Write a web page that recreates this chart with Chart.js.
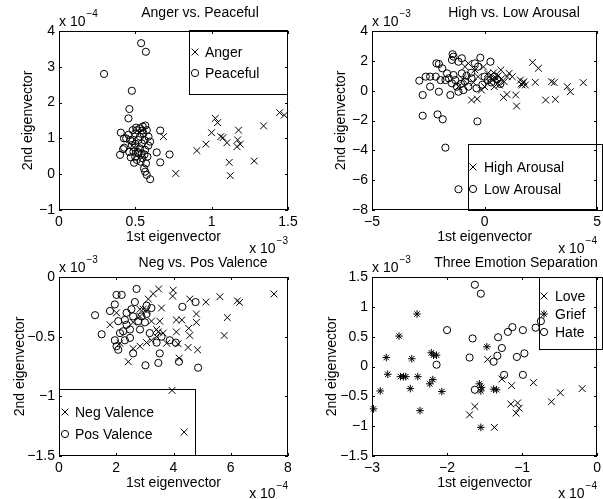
<!DOCTYPE html>
<html>
<head>
<meta charset="UTF-8">
<script src="https://cdn.jsdelivr.net/npm/chart.js"></script>
<style>
	body { margin: 0; background: #fff; }
	#wrap { position: relative; width: 603px; height: 499px; }
	#wrap canvas { position: absolute; left: 0; top: 0; }
</style>
</head>
<body>
<div id="wrap">
	<canvas id="c1" width="603" height="499"></canvas>
	<canvas id="c2" width="603" height="499"></canvas>
	<canvas id="c3" width="603" height="499"></canvas>
	<canvas id="c4" width="603" height="499"></canvas>
</div>
<script>
// ---- data (x in units of the bottom-right exponent, y in units of the top-left one) ----

// Anger vs. Peaceful (x 1e-3, y 1e-4)
var angerX = [0.765, 0.684, 0.903, 0.962, 0.999, 1.024, 1.039, 1.06, 1.074, 1.10, 1.115, 1.122, 1.176, 1.17, 1.166, 1.187, 1.279, 1.34, 1.445, 1.476];
var angerY = [0.02, 1.05, 0.66, 0.84, 1.16, 1.56, 1.44, 1.05, 1.02, 0.88, 0.33, -0.04, 1.23, 0.96, 0.77, 0.84, 0.37, 1.35, 1.72, 1.65];
var peacefulX = [0.295, 0.538, 0.569, 0.477, 0.461, 0.455, 0.405, 0.40, 0.663, 0.64, 0.724, 0.663, 0.597, 0.575, 0.564, 0.557, 0.57, 0.579,
	0.426, 0.42, 0.455, 0.466, 0.477, 0.488, 0.499, 0.51, 0.52, 0.531, 0.542, 0.553, 0.549, 0.531, 0.51, 0.499, 0.575, 0.586, 0.597,
	0.564, 0.542, 0.52, 0.483, 0.47, 0.492, 0.427, 0.44, 0.50, 0.53, 0.56, 0.515, 0.545, 0.495, 0.535, 0.585, 0.46, 0.505, 0.545, 0.565, 0.56, 0.48];
var peacefulY = [2.80, 3.66, 3.42, 2.33, 1.82, 1.56, 1.16, 0.54, 1.22, 0.61, 0.55, 0.33, -0.14, -0.02, 0.07, 0.16, 0.30, 0.49,
	1.0, 0.70, 1.10, 0.955, 0.815, 0.63, 0.49, 0.40, 0.58, 0.72, 0.86, 1.14, 1.33, 1.28, 1.23, 1.14, 1.23, 1.05, 0.91,
	0.68, 0.58, 0.955, 1.23, 0.47, 0.32, 0.74, 1.0, 0.85, 1.05, 0.95, 0.62, 0.45, 0.75, 0.35, 0.80, 0.62, 1.30, 1.22, 1.36, 0.55, 0.92];

// High vs. Low Arousal (x 1e-4, y 1e-3)
var highX = [2.13, 2.39, 2.25, 2.97, 3.09, 2.71, 3.14, 3.67, 3.81, 4.38, 1.42, 1.38, 1.23, 0.99, 0.84, 0.72, 1.09, 1.59, 1.67, 1.74, 1.81,
	-0.58, -0.33, 0.58, 0.36, 0.14, 0.0, -0.29, -0.43, -0.72, -0.87, 0.29, 0.43, -0.14, 0.65, 0.51, 0.87, -1.16, 1.62, 1.70, 0.20, -0.50,
	0.75, -0.05, 0.40, 1.0, 0.60, -0.95];
var highY = [1.90, 1.50, 0.56, 0.60, 0.54, -0.63, -0.58, 0.27, -0.07, 0.54, -1.03, -0.29, 0.94, -0.25, -0.45, 1.39, 1.16, 0.71, 0.38, 0.60, 0.38,
	-0.63, -0.56, 0.49, 0.71, 1.16, 0.27, 0.94, 1.39, 1.83, 1.61, 1.05, 0.27, 0.04, 0.38, 0.83, 0.60, 0.27, 0.45, 0.52, 0.60, 0.55,
	0.80, 1.60, 1.20, 0.95, 1.0, 0.75];
var lowX = [-2.90, -2.75, -2.75, -2.61, -2.42, -2.42, -2.17, -2.14, -2.03, -2.09, -1.86, -2.03, -1.96, -1.74, -1.88, -1.74, -1.67, -1.42,
	-1.38, -1.45, -1.52, -1.45, -1.30, -1.23, -1.16, -1.01, -0.87, -0.72, -0.94, -0.32, -0.19, 0.26, -0.43, -0.29, -0.36, -0.58, -1.16,
	-1.01, 0.0, 0.14, -1.59, -1.38, -1.16, -0.10, 0.30, 0.55, 0.70, -0.60, -1.05, -0.80, 0.45];
var lowY = [0.67, -0.29, -1.68, 0.94, 0.27, 0.94, 0.94, 1.83, 1.79, -1.59, -1.92, -0.07, 0.71, -3.82, 1.50, 0.71, 1.16, 2.44,
	2.28, 2.06, -0.29, 0.49, 0.71, 0.27, 1.94, 2.17, 0.60, 0.27, 0.04, -2.06, 2.21, 1.94, 1.83, 1.61, 0.16, 0.83, -0.07,
	1.16, 0.94, 0.71, 0.83, 1.05, -6.61, 0.40, 0.55, 0.75, 0.45, 1.20, 0.45, 1.00, 0.95];

// Neg vs. Pos Valence (x 1e-4, y 1e-3)
var negX = [7.51, 6.31, 6.23, 5.62, 5.88, 5.77, 5.13, 4.80, 4.80, 4.84, 4.57, 4.53, 4.57, 4.51, 4.29, 4.10, 4.10, 4.16, 4.20, 3.99, 3.97,
	3.48, 3.29, 3.95, 4.37, 3.58, 3.52, 3.47, 3.41, 3.23, 3.06, 2.83, 2.59, 2.42, 2.13, 1.78, 2.01, 2.83, 2.94, 3.12, 3.23, 3.41, 3.76,
	2.83, 2.59, 3.06, 3.64];
var negY = [-0.142, -0.213, -0.20, -0.165, -0.34, -0.49, -0.21, -0.31, -0.38, -0.61, -0.185, -0.43, -0.49, -0.59, -0.36, -0.36, -0.46, -0.56, -0.68, -0.11, -0.16,
	-0.10, -0.14, -0.95, -1.30, -0.26, -0.37, -0.46, -0.50, -0.53, -0.55, -0.58, -0.60, -0.71, -0.555, -0.40, -0.30, -0.33, -0.27, -0.185, -0.37, -0.44, -0.555,
	-0.27, -0.38, -0.285, -0.47];
var posX = [1.26, 1.49, 1.78, 1.95, 2.01, 2.19, 2.07, 1.95, 2.01, 2.07, 2.24, 2.30, 2.48, 2.59, 2.71, 2.65, 2.53, 2.36, 2.88, 3.06, 3.23,
	3.02, 3.47, 3.52, 3.41, 3.58, 3.87, 4.08, 4.19, 4.31, 4.77, 4.86, 2.83, 2.77, 2.59, 3.0, 3.17, 2.36, 2.13, 3.06, 2.48, 2.30];
var posY = [-0.32, -0.48, -0.285, -0.23, -0.15, -0.15, -0.37, -0.53, -0.58, -0.61, -0.455, -0.53, -0.51, -0.64, -0.10, -0.21, -0.27, -0.30, -0.33, -0.24, -0.26,
	-0.74, -0.72, -0.64, -0.55, -0.50, -0.53, -0.55, -0.71, -0.25, -0.21, -0.76, -0.44, -0.37, -0.33, -0.38, -0.47, -0.40, -0.47, -0.31, -0.44, -0.36];

// Three Emotion Separation (x 1e-4, y 1e-3)
var loveX = [-1.70, -1.63, -1.46, -1.27, -1.14, -1.15, -1.06, -1.04, -1.08, -0.85, -0.61, -0.49, -0.20, -1.37];
var loveY = [-0.81, -0.67, 0.12, -0.21, -0.32, -0.63, -0.61, -0.70, -0.78, -0.27, -0.59, -0.44, -0.37, -1.02];
var griefX = [-2.98, -2.89, -2.81, -2.79, -2.64, -2.62, -2.58, -2.55, -2.49, -2.47, -2.40, -2.39, -2.36, -2.21, -2.18, -2.14, -2.19, -2.23,
	-2.07, -1.47, -1.57, -1.55, -1.54, -1.55, -1.38, -1.34];
var griefY = [-0.71, -0.41, 0.15, -0.13, 0.51, -0.17, -0.17, -0.17, -0.37, 0.13, 0.88, -0.17, -0.74, 0.23, 0.19, 0.19, -0.22, -0.29,
	-0.42, 0.33, -0.29, -0.41, -0.35, -1.02, -0.38, -0.39];
var hateX = [-1.63, -1.55, -2.0, -2.14, -1.66, -1.70, -1.63, -1.38, -1.33, -1.32, -1.27, -1.19, -1.13, -0.99, -1.07, -0.97, -1.24, -0.99, -0.82, -0.75];
var hateY = [1.37, 1.22, 0.61, 0.03, 0.47, 0.15, -0.39, 0.08, 0.18, 0.49, 0.31, 0.58, 0.66, 0.61, 0.16, 0.22, -0.14, -0.14, 0.65, 0.76];

// tick values
var p1XTicks = [0, 0.5, 1, 1.5], p1YTicks = [-1, 0, 1, 2, 3, 4];
var p2XTicks = [-5, 0, 5], p2YTicks = [-8, -6, -4, -2, 0, 2, 4];
var p3XTicks = [0, 2, 4, 6, 8], p3YTicks = [-1.5, -1, -0.5, 0];
var p4XTicks = [-3, -2, -1, 0], p4YTicks = [-1.5, -1, -0.5, 0, 0.5, 1, 1.5];

var FONT = '"Liberation Sans", Arial, sans-serif';
var W = 603, H = 499;

function zip(xs, ys) {
	return xs.map(function (x, i) { return {x: x, y: ys[i]}; });
}

function fmt(v) {
	return String(v).replace('-', '\u2212');
}

// marker drawing for the legend (same shapes as Chart.js point styles)
function mark(ctx, style, x, y, r) {
	ctx.beginPath();
	if (style === 'circle') {
		ctx.arc(x, y, r, 0, Math.PI * 2);
	} else {
		var d = r * Math.SQRT1_2;
		ctx.moveTo(x - d, y - d); ctx.lineTo(x + d, y + d);
		ctx.moveTo(x - d, y + d); ctx.lineTo(x + d, y - d);
		if (style === 'star') {
			ctx.moveTo(x - r, y); ctx.lineTo(x + r, y);
			ctx.moveTo(x, y - r); ctx.lineTo(x, y + r);
		}
	}
	ctx.stroke();
}

function expLabel(ctx, x, y, exp, alignRight) {
	ctx.font = '14px ' + FONT;
	var w1 = ctx.measureText('x 10').width;
	ctx.font = '10px ' + FONT;
	var w2 = ctx.measureText(exp).width;
	var x0 = alignRight ? x - w1 - w2 - 1 : x;
	ctx.textAlign = 'left';
	ctx.textBaseline = 'alphabetic';
	ctx.font = '14px ' + FONT;
	ctx.fillText('x 10', x0, y);
	ctx.font = '10px ' + FONT;
	ctx.fillText(exp, x0 + w1 + 1, y - 9);
}

var matlabPlugin = {
	id: 'matlab',
	beforeDatasetsDraw: function (chart, args, o) {
		var ctx = chart.ctx, lg = o.legend;
		ctx.save();
		ctx.fillStyle = '#fff';
		ctx.fillRect(lg.box[0], lg.box[1], lg.box[2] - lg.box[0], lg.box[3] - lg.box[1]);
		ctx.strokeStyle = '#000';
		ctx.lineWidth = 1;
		ctx.strokeRect(lg.box[0] + 0.5, lg.box[1] + 0.5, lg.box[2] - lg.box[0] - 1, lg.box[3] - lg.box[1] - 1);
		ctx.fillStyle = '#000';
		ctx.font = '14px ' + FONT;
		ctx.textAlign = 'left';
		ctx.textBaseline = 'middle';
		lg.rows.forEach(function (row) {
			mark(ctx, row.style, lg.markX, row.y, row.r);
			ctx.fillText(row.label, lg.textX, row.y + 1);
		});
		ctx.restore();
	},
	afterDraw: function (chart, args, o) {
		var ctx = chart.ctx, a = chart.chartArea;
		var L = Math.round(a.left), R = Math.round(a.right), T = Math.round(a.top), B = Math.round(a.bottom);
		ctx.save();
		ctx.strokeStyle = '#000';
		ctx.lineWidth = 1;
		ctx.strokeRect(L + 0.5, T + 0.5, R - L - 1, B - T - 1);
		ctx.beginPath();
		chart.scales.x.ticks.forEach(function (t) {
			var px = Math.round(chart.scales.x.getPixelForValue(t.value)) + 0.5;
			ctx.moveTo(px, B); ctx.lineTo(px, B - 3);
			ctx.moveTo(px, T); ctx.lineTo(px, T + 3);
		});
		chart.scales.y.ticks.forEach(function (t) {
			var py = Math.round(chart.scales.y.getPixelForValue(t.value)) + 0.5;
			ctx.moveTo(L, py); ctx.lineTo(L + 3, py);
			ctx.moveTo(R, py); ctx.lineTo(R - 3, py);
		});
		ctx.stroke();

		ctx.fillStyle = '#000';
		ctx.font = '14px ' + FONT;
		ctx.textAlign = 'center';
		ctx.textBaseline = 'middle';
		ctx.fillText(o.title, o.titleX, o.titleY);

		expLabel(ctx, L, T - 5, o.yExp, false);
		expLabel(ctx, R, o.xExpY, o.xExp, true);
		ctx.restore();
	}
};

function makeChart(id, p) {
	var bottomEdge = p.top ? 250 : 499;
	var colLeft = p.box.l < 300 ? 0 : 301;
	var axisFont = {family: FONT, size: 14};
	new Chart(document.getElementById(id), {
		type: 'scatter',
		data: {
			datasets: p.sets.map(function (s) {
				return {
					data: s.data,
					pointStyle: s.style,
					pointRadius: s.r,
					pointHoverRadius: s.r,
					borderColor: '#000',
					backgroundColor: 'rgba(0,0,0,0)',
					pointBorderWidth: 1,
					showLine: false,
					clip: false
				};
			})
		},
		options: {
			responsive: false,
			animation: false,
			events: [],
			layout: {
				padding: {left: colLeft, right: W - p.box.r, top: p.box.t, bottom: H - bottomEdge}
			},
			scales: {
				x: {
					type: 'linear',
					min: p.xTicks[0],
					max: p.xTicks[p.xTicks.length - 1],
					afterBuildTicks: function (s) { s.ticks = p.xTicks.map(function (v) { return {value: v}; }); },
					afterFit: function (s) {
						s.height = bottomEdge - p.box.b;
						s.paddingLeft = 0; s.paddingRight = 0;
					},
					grid: {display: false, drawTicks: false},
					border: {display: false},
					ticks: {padding: 4, color: '#000', font: axisFont, callback: fmt, maxRotation: 0, autoSkip: false},
					title: {display: true, text: '1st eigenvector', color: '#000', font: axisFont,
						padding: {top: 0, bottom: p.top ? 4.6 : 7.6}}
				},
				y: {
					type: 'linear',
					min: p.yTicks[0],
					max: p.yTicks[p.yTicks.length - 1],
					afterBuildTicks: function (s) { s.ticks = p.yTicks.map(function (v) { return {value: v}; }); },
					afterFit: function (s) {
						s.width = p.box.l - colLeft;
						s.paddingTop = 0; s.paddingBottom = 0;
					},
					grid: {display: false, drawTicks: false},
					border: {display: false},
					ticks: {padding: 4, color: '#000', font: axisFont, callback: fmt, autoSkip: false},
					title: {display: true, text: '2nd eigenvector', color: '#000', font: axisFont,
						padding: {top: p.yTitleX - colLeft - 8.4, bottom: 0}}
				}
			},
			plugins: {
				legend: {display: false},
				tooltip: {enabled: false},
				matlab: {
					title: p.title, titleX: p.titleX, titleY: p.top ? 13 : 263,
					yExp: p.yExp, xExp: p.xExp, xExpY: p.top ? 253 : 498,
					legend: p.legend
				}
			}
		},
		plugins: [matlabPlugin]
	});
}

makeChart('c1', {
	top: true, box: {l: 59, t: 31, r: 288, b: 210},
	xTicks: p1XTicks, yTicks: p1YTicks, yTitleX: 28,
	title: 'Anger vs. Peaceful', titleX: 200, yExp: '\u22124', xExp: '\u22123',
	sets: [
		{data: zip(angerX, angerY), style: 'crossRot', r: 4.8},
		{data: zip(peacefulX, peacefulY), style: 'circle', r: 3.6}
	],
	legend: {box: [189, 30, 288, 95], markX: 195, textX: 205, rows: [
		{style: 'crossRot', r: 4.8, label: 'Anger', y: 52},
		{style: 'circle', r: 3.6, label: 'Peaceful', y: 73}
	]}
});

makeChart('c2', {
	top: true, box: {l: 372, t: 31, r: 602, b: 210},
	xTicks: p2XTicks, yTicks: p2YTicks, yTitleX: 341,
	title: 'High vs. Low Arousal', titleX: 514, yExp: '\u22123', xExp: '\u22124',
	sets: [
		{data: zip(highX, highY), style: 'crossRot', r: 4.8},
		{data: zip(lowX, lowY), style: 'circle', r: 3.6}
	],
	legend: {box: [468, 144, 603, 211], markX: 473, textX: 484, rows: [
		{style: 'crossRot', r: 4.8, label: 'High Arousal', y: 167},
		{style: 'circle', r: 3.6, label: 'Low Arousal', y: 189}
	]}
});

makeChart('c3', {
	top: false, box: {l: 59, t: 277, r: 288, b: 456},
	xTicks: p3XTicks, yTicks: p3YTicks, yTitleX: 20,
	title: 'Neg vs. Pos Valence', titleX: 203, yExp: '\u22123', xExp: '\u22124',
	sets: [
		{data: zip(negX, negY), style: 'crossRot', r: 4.8},
		{data: zip(posX, posY), style: 'circle', r: 3.6}
	],
	legend: {box: [59, 389, 196, 456], markX: 65, textX: 75, rows: [
		{style: 'crossRot', r: 4.8, label: 'Neg Valence', y: 412},
		{style: 'circle', r: 3.6, label: 'Pos Valence', y: 434}
	]}
});

makeChart('c4', {
	top: false, box: {l: 372, t: 277, r: 602, b: 456},
	xTicks: p4XTicks, yTicks: p4YTicks, yTitleX: 332,
	title: 'Three Emotion Separation', titleX: 516, yExp: '\u22123', xExp: '\u22124',
	sets: [
		{data: zip(loveX, loveY), style: 'crossRot', r: 4.8},
		{data: zip(griefX, griefY), style: 'star', r: 3.8},
		{data: zip(hateX, hateY), style: 'circle', r: 3.6}
	],
	legend: {box: [539, 277, 603, 350], markX: 544, textX: 555, rows: [
		{style: 'crossRot', r: 4.8, label: 'Love', y: 296},
		{style: 'star', r: 3.8, label: 'Grief', y: 314},
		{style: 'circle', r: 3.6, label: 'Hate', y: 332}
	]}
});
</script>
</body>
</html>
